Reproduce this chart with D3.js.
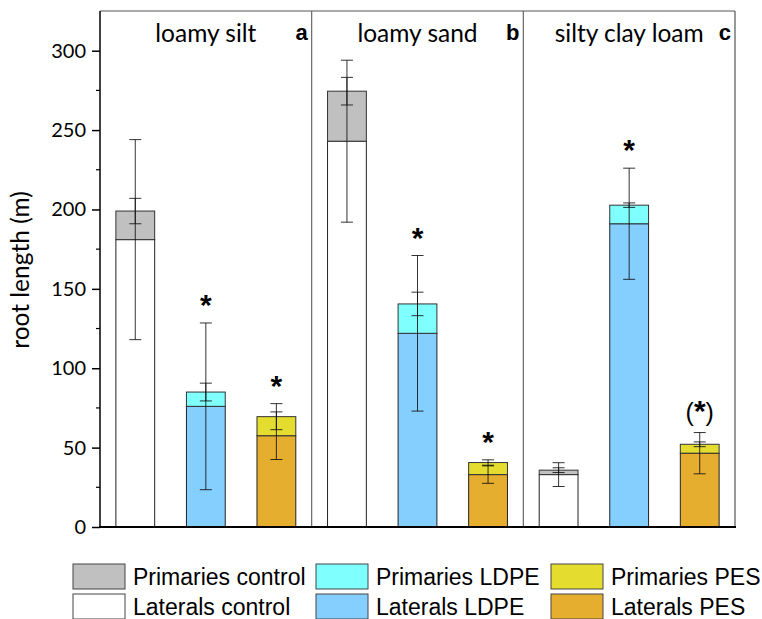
<!DOCTYPE html>
<html>
<head>
<meta charset="utf-8">
<script src="https://cdn.jsdelivr.net/npm/d3@7"></script>
<style>
  body { margin: 0; background: #fff; }
  svg text { fill: #000; }
</style>
</head>
<body>
<svg id="chart" width="762" height="619"></svg>
<script>
// Dados do gráfico
const soils = ["loamy silt", "loamy sand", "silty clay loam"];
const panelLetters = ["a", "b", "c"];
const treatments = ["control", "LDPE", "PES"];

// uma entrada por barra: solo x tratamento (control, LDPE, PES)
const lateralsMean = [181, 76, 57.5, 243, 122, 33, 33, 191, 46.5];
const primariesMean = [18, 9, 12, 31.5, 18.5, 7.6, 2.8, 11.7, 5.6];
const lateralsErr = [63, 52.5, 15, 51, 49, 5.5, 7.5, 35, 13];
const primariesErr = [8, 5.6, 8.2, 8.7, 7.4, 1.7, 1.5, 1.4, 1.5];
const signif = ["", "*", "*", "", "*", "*", "", "*", "(*)"];

const yTicks = [0, 50, 100, 150, 200, 250, 300];

const lateralColors = { control: "#ffffff", LDPE: "#84cfff", PES: "#e5ae2f" };
const primaryColors = { control: "#c0c0c0", LDPE: "#80ffff", PES: "#e5dc30" };

const margin = { left: 100, right: 27, top: 11, bottom: 92 };
const width = 762;
const height = 619;

const svg = d3.select("#chart");

// Escalas
const y = d3.scaleLinear()
    .domain([0, 325])
    .range([height - margin.bottom, margin.top]);

const xPanel = d3.scaleBand()
    .domain(soils)
    .range([margin.left, width - margin.right])
    .padding(0);

const xBar = d3.scaleBand()
    .domain(treatments)
    .range([0, xPanel.bandwidth()])
    .paddingInner(0.45)
    .paddingOuter(0.225);

// Montar a tabela de barras
const bars = [];
soils.forEach((s, i) => {
    treatments.forEach((t, j) => {
        const k = i * 3 + j;
        bars.push({
            soil: s, treat: t,
            lat: lateralsMean[k], prim: primariesMean[k],
            latErr: lateralsErr[k], primErr: primariesErr[k],
            sig: signif[k]
        });
    });
});

const xPos = d => xPanel(d.soil) + xBar(d.treat);
const bw = xBar.bandwidth();

// Barras empilhadas
const barG = svg.append("g");

barG.selectAll("rect.lat")
    .data(bars)
    .enter().append("rect")
    .attr("x", xPos)
    .attr("y", d => y(d.lat))
    .attr("width", bw)
    .attr("height", d => y(0) - y(d.lat))
    .attr("fill", d => lateralColors[d.treat])
    .attr("stroke", "#222")
    .attr("stroke-width", 1);

barG.selectAll("rect.prim")
    .data(bars)
    .enter().append("rect")
    .attr("x", xPos)
    .attr("y", d => y(d.lat + d.prim))
    .attr("width", bw)
    .attr("height", d => y(d.lat) - y(d.lat + d.prim))
    .attr("fill", d => primaryColors[d.treat])
    .attr("stroke", "#333")
    .attr("stroke-width", 1);

// Barras de erro
const errors = [];
bars.forEach(d => {
    errors.push({ d: d, center: d.lat, err: d.latErr });
    errors.push({ d: d, center: d.lat + d.prim, err: d.primErr });
});

const capW = 6;
const errG = svg.append("g")
    .attr("stroke", "#111")
    .attr("stroke-opacity", 0.85)
    .attr("stroke-width", 1);

errors.forEach(e => {
    const cx = xPos(e.d) + bw / 2;
    const top = y(e.center + e.err);
    const bot = y(e.center - e.err);
    errG.append("line").attr("x1", cx).attr("x2", cx).attr("y1", top).attr("y2", bot);
    errG.append("line").attr("x1", cx - capW).attr("x2", cx + capW).attr("y1", top).attr("y2", top);
    errG.append("line").attr("x1", cx - capW).attr("x2", cx + capW).attr("y1", bot).attr("y2", bot);
});

// Asteriscos de significância
const sigText = svg.append("g")
    .selectAll("text")
    .data(bars.filter(d => d.sig !== ""))
    .enter().append("text")
    .attr("x", d => xPos(d) + bw / 2)
    .attr("y", d => y(Math.max(d.lat + d.latErr, d.lat + d.prim + d.primErr)) - (d.sig === "*" ? 8 : 12))
    .attr("text-anchor", "middle")
    .attr("font-family", "Liberation Sans, Arial, sans-serif")
    .attr("font-size", 30);

sigText.each(function(d) {
    const t = d3.select(this);
    if (d.sig === "*") {
        t.append("tspan").attr("font-weight", "bold").text("*");
    } else {
        t.attr("font-size", 25);
        t.append("tspan").text("(");
        t.append("tspan").attr("font-weight", "bold").attr("font-size", 30).text("*");
        t.append("tspan").text(")");
    }
});

// Moldura e divisórias dos painéis
const frame = svg.append("g");
frame.append("line")
    .attr("x1", margin.left).attr("x2", width - margin.right)
    .attr("y1", y.range()[1]).attr("y2", y.range()[1])
    .attr("stroke", "#555").attr("stroke-width", 1);
frame.append("line")
    .attr("x1", width - margin.right).attr("x2", width - margin.right)
    .attr("y1", y.range()[1]).attr("y2", y(0))
    .attr("stroke", "#555").attr("stroke-width", 1.2);

soils.slice(1).forEach(s => {
    frame.append("line")
        .attr("x1", xPanel(s)).attr("x2", xPanel(s))
        .attr("y1", y.range()[1]).attr("y2", y(0))
        .attr("stroke", "#666").attr("stroke-width", 1.2);
});

frame.append("line")
    .attr("x1", margin.left - 1).attr("x2", width - margin.right + 1)
    .attr("y1", y(0)).attr("y2", y(0))
    .attr("stroke", "#000").attr("stroke-width", 2);

// Eixo Y
const yAxis = svg.append("g")
    .attr("transform", `translate(${margin.left},0)`)
    .call(d3.axisLeft(y).tickValues(yTicks).tickSize(8).tickPadding(6));

yAxis.select(".domain").attr("stroke", "#000").attr("stroke-width", 1.5)
    .attr("d", `M0,${y(0)}V${y.range()[1]}`);
yAxis.selectAll(".tick line").attr("stroke", "#000").attr("stroke-width", 1.5);
yAxis.selectAll(".tick text")
    .attr("font-family", "Lato, sans-serif")
    .attr("font-size", 20)
    .attr("fill", "#000");

// ticks menores
svg.append("g")
    .selectAll("line")
    .data(d3.range(25, 325, 50))
    .enter().append("line")
    .attr("x1", margin.left - 4).attr("x2", margin.left)
    .attr("y1", d => y(d)).attr("y2", d => y(d))
    .attr("stroke", "#000").attr("stroke-width", 1.2);

svg.append("text")
    .attr("transform", `translate(29,270) rotate(-90)`)
    .attr("text-anchor", "middle")
    .attr("font-family", "Lato, sans-serif")
    .attr("font-size", 24.5)
    .text("root length (m)");

// Títulos dos painéis
soils.forEach((s, i) => {
    svg.append("text")
        .attr("x", xPanel(s) + xPanel.bandwidth() / 2)
        .attr("y", 42)
        .attr("text-anchor", "middle")
        .attr("font-family", "Lato, sans-serif")
        .attr("font-size", 24.5)
        .text(s);
    svg.append("text")
        .attr("x", xPanel(s) + xPanel.bandwidth() - 4)
        .attr("y", 40)
        .attr("text-anchor", "end")
        .attr("font-family", "Liberation Sans, Arial, sans-serif")
        .attr("font-weight", "bold")
        .attr("font-size", 22)
        .text(panelLetters[i]);
});

// Legenda
const legendItems = [];
treatments.forEach((t, j) => {
    legendItems.push({ col: j, row: 0, label: "Primaries " + t, color: primaryColors[t] });
    legendItems.push({ col: j, row: 1, label: "Laterals " + t, color: lateralColors[t] });
});
const legendX = [73, 316, 551];
const legendY = [564, 594];

const leg = svg.append("g")
    .selectAll("g")
    .data(legendItems)
    .enter().append("g")
    .attr("transform", d => `translate(${legendX[d.col]},${legendY[d.row]})`);

leg.append("rect")
    .attr("width", 52).attr("height", 25)
    .attr("fill", d => d.color)
    .attr("stroke", "#444").attr("stroke-width", 1);

leg.append("text")
    .attr("x", 60).attr("y", 21)
    .attr("font-family", "Liberation Sans, Arial, sans-serif")
    .attr("font-size", 23)
    .text(d => d.label);
</script>
</body>
</html>
